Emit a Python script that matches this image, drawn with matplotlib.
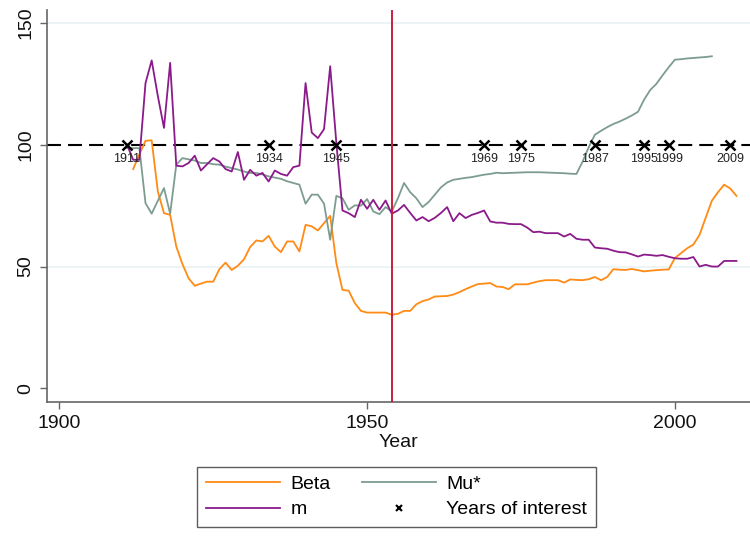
import numpy as np
import matplotlib.pyplot as plt
from matplotlib.lines import Line2D

plt.rcParams['font.family'] = ['Liberation Sans', 'DejaVu Sans']

# Beta (orange)
beta_years = list(range(1912, 2011))
beta_vals = [90.0, 96.0, 101.6, 101.8, 80.8, 71.9, 71.2, 58.2, 51.0, 45.2,
             42.1, 43.0, 43.8, 43.8, 48.9, 51.6, 48.6, 50.3, 53.0, 58.0,
             60.7, 60.3, 62.6, 58.2, 55.9, 60.3, 60.3, 56.2, 67.1, 66.5,
             64.8, 67.8, 70.8, 51.4, 40.4, 40.1, 35.0, 31.8, 31.1, 31.1,
             31.1, 31.1, 30.2, 30.6, 31.8, 31.8, 34.5, 35.8, 36.5, 37.7,
             37.8, 37.9, 38.5, 39.5, 40.7, 41.8, 42.8, 43.0, 43.2, 41.8,
             41.6, 40.7, 42.7, 42.7, 42.7, 43.4, 44.0, 44.4, 44.4, 44.4,
             43.4, 44.7, 44.5, 44.4, 44.8, 45.7, 44.4, 45.7, 48.9, 48.7,
             48.6, 49.0, 48.5, 48.0, 48.3, 48.5, 48.7, 48.8, 53.5, 55.5,
             57.5, 59.0, 63.0, 70.0, 77.0, 80.5, 83.6, 82.0, 79.0]

# Mu* (grey-green)
mu_years = list(range(1911, 2007))
mu_vals = [98.6, 98.6, 98.6, 76.0, 71.7, 77.0, 82.2, 71.7, 91.8, 94.5,
           94.0, 93.5, 92.5, 92.5, 92.0, 91.8, 91.0, 90.4, 89.8, 89.0,
           88.4, 88.4, 87.8, 87.0, 86.5, 86.0, 85.0, 84.3, 83.6, 75.8,
           79.5, 79.5, 75.8, 61.0, 79.0, 78.0, 73.3, 75.1, 75.0, 77.7,
           72.6, 71.5, 74.4, 72.6, 78.0, 84.3, 80.5, 78.0, 74.4, 76.5,
           79.5, 82.5, 84.5, 85.6, 86.0, 86.4, 86.7, 87.2, 87.7, 88.0,
           88.5, 88.3, 88.4, 88.5, 88.6, 88.7, 88.7, 88.7, 88.6, 88.5,
           88.4, 88.3, 88.1, 88.0, 93.0, 99.0, 104.1, 105.7, 107.2, 108.5,
           109.5, 110.7, 112.0, 113.5, 118.5, 122.5, 125.0, 128.5, 131.8, 134.9,
           135.1, 135.4, 135.6, 135.8, 136.0, 136.3]

# m (purple)
m_years = list(range(1911, 2011))
m_vals = [100.0, 93.8, 93.8, 125.3, 134.6, 120.0, 106.9, 133.6, 91.4, 91.1,
          92.5, 95.5, 89.4, 92.0, 94.5, 93.1, 90.0, 89.0, 97.0, 85.6,
          89.7, 87.3, 88.4, 84.9, 89.4, 88.0, 87.3, 90.8, 91.4, 125.3,
          105.0, 102.7, 106.4, 132.2, 100.7, 73.0, 71.9, 70.3, 77.4, 73.7,
          77.4, 73.3, 77.1, 71.7, 73.0, 75.3, 72.0, 68.9, 70.3, 68.6,
          70.0, 72.0, 74.4, 68.6, 71.9, 69.9, 71.2, 72.0, 73.0, 68.5,
          68.0, 68.0, 67.5, 67.4, 67.4, 66.0, 64.1, 64.3, 63.7, 63.7,
          63.7, 62.3, 63.4, 61.4, 61.0, 61.0, 57.8, 57.5, 57.3, 56.5,
          55.9, 55.8, 55.0, 54.1, 54.9, 54.7, 54.4, 54.7, 54.0, 53.4,
          53.2, 53.2, 53.9, 50.0, 50.7, 50.0, 50.0, 52.3, 52.3, 52.3]

years_of_interest = [1911, 1934, 1945, 1969, 1975, 1987, 1995, 1999, 2009]
break_year = 1954

c_beta = '#ff8a14'
c_mu = '#7d9c90'
c_m = '#8b1a8b'

fig = plt.figure(figsize=(7.5, 5.51), dpi=100)
ax = fig.add_axes([0.0627, 0.2713, 0.9373, 0.7106])

# grid
for v in [50, 150]:
    ax.axhline(v, color='#eaf2f3', lw=1.2, zorder=0)

ax.axhline(100, color='black', lw=1.5, ls=(0, (6.7, 3.4)), zorder=2)
ax.axvline(break_year, color='#c81e3c', lw=1.4, zorder=4)

ax.plot(beta_years, beta_vals, color=c_beta, lw=1.3, zorder=3)
ax.plot(mu_years, mu_vals, color=c_mu, lw=1.3, zorder=3)
ax.plot(m_years, m_vals, color=c_m, lw=1.3, zorder=3)

ax.plot(years_of_interest, [100] * len(years_of_interest), ls='none',
        marker='x', ms=6.5, mew=1.8, color='black', zorder=5)
for yr in years_of_interest:
    ax.annotate(str(yr), (yr, 100), xytext=(0, -10), textcoords='offset points',
                ha='center', va='center', fontsize=9, color='#222222')

ax.set_xlim(1898, 2012.2)
ax.set_ylim(-5.4, 155.3)
ax.set_xticks([1900, 1950, 2000])
ax.set_yticks([0, 50, 100, 150])
ax.tick_params(axis='both', labelsize=14, length=5, width=1, color='#666666',
               labelcolor='#111111')
ax.tick_params(axis='x', pad=5)
ax.tick_params(axis='y', pad=4)
plt.setp(ax.get_yticklabels(), rotation=90, va='center')

for s in ['top', 'right']:
    ax.spines[s].set_visible(False)
for s in ['left', 'bottom']:
    ax.spines[s].set_color('#666666')
    ax.spines[s].set_linewidth(1.2)

ax.set_xlabel('Year', fontsize=14, labelpad=1, color='#111111')

handles = [Line2D([], [], color=c_beta, lw=1.3),
           Line2D([], [], color=c_m, lw=1.3),
           Line2D([], [], color=c_mu, lw=1.3),
           Line2D([], [], ls='none', marker='x', ms=5, mew=1.5, color='black')]
labels = ['Beta', 'm', 'Mu*', 'Years of interest']
leg = fig.legend(handles, labels, ncol=2, loc='center',
                 bbox_to_anchor=(396.5 / 750, 1 - 497 / 551), fontsize=14,
                 frameon=True, fancybox=False, edgecolor='#333333',
                 handlelength=3.8, handletextpad=0.55, columnspacing=1.6,
                 labelspacing=0.4, borderpad=0.45)
leg.get_frame().set_linewidth(1.0)

fig.savefig('out.png', dpi=100)
